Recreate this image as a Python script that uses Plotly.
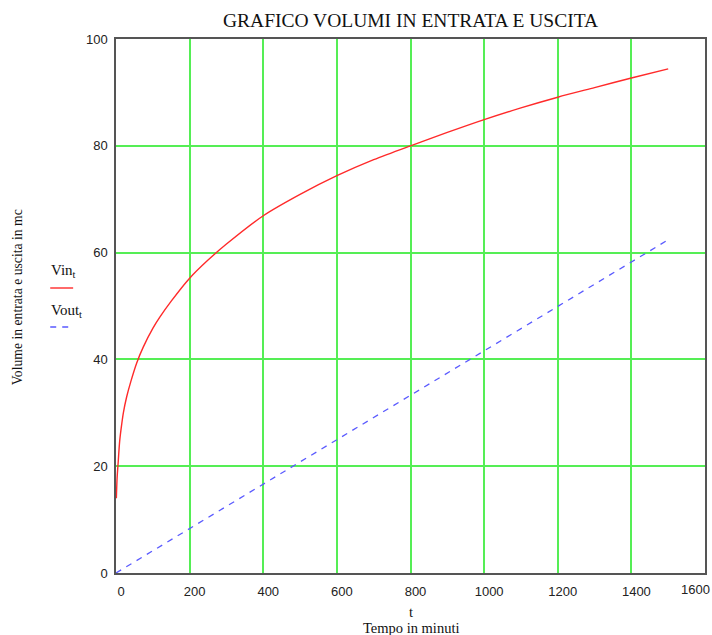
import plotly.graph_objects as go

# Data
t_in = [1, 3, 6, 10, 15, 20, 29, 40, 56, 74, 100, 119, 150, 200, 250, 300, 400, 500, 600,
        700, 800, 900, 1000, 1100, 1200, 1300, 1400, 1500]
vin = [14.0, 17.8, 20.8, 24.7, 27.6, 30.0, 33.0, 35.8, 39.3, 42.3, 45.8, 47.9, 50.9, 55.2,
       58.6, 61.6, 66.9, 70.9, 74.4, 77.4, 80.0, 82.5, 84.9, 87.1, 89.1, 90.9, 92.7, 94.4]
t_out = [0, 1500]
vout = [0.0, 62.4]

x_ticks = [0, 200, 400, 600, 800, 1000, 1200, 1400, 1600]
y_ticks = [0, 20, 40, 60, 80, 100]

W, H = 712, 635
L, R, T, B = 116, 5, 39, 62
pw, ph = W - L - R, H - T - B


def px(x):
    return (x - L) / pw


def py(y):
    return 1 - (y - T) / ph


RED = "#ff2a2a"
BLUE = "#5a5aff"
GRID = "#55ee55"
SERIF = "Liberation Serif"
SANS = "Liberation Sans"
INK = "#111111"
TICKC = "#222222"

fig = go.Figure()
fig.add_trace(go.Scatter(x=t_in, y=vin, mode="lines", name="Vin",
                         line=dict(color=RED, width=1.4, shape="spline", smoothing=0.8),
                         showlegend=False, hoverinfo="skip"))
fig.add_trace(go.Scatter(x=t_out, y=vout, mode="lines", name="Vout",
                         line=dict(color=BLUE, width=1.3, dash="6px,6px"),
                         showlegend=False, hoverinfo="skip"))

axis_common = dict(showline=True, linecolor="#555555", linewidth=1.5, mirror=True,
                   showgrid=True, gridcolor=GRID, gridwidth=1.5, zeroline=False,
                   ticks="", tickfont=dict(family=SANS, size=13, color=TICKC))

# last x label (1600) sits at the plot edge; drawn as an annotation below
x_text = [str(v) for v in x_ticks[:-1]] + [""]
fig.update_xaxes(range=[0, 1600], tickvals=x_ticks, ticktext=x_text,
                 ticklabelshift=5, ticklabelstandoff=6, **axis_common)
fig.update_yaxes(range=[0, 100], tickvals=y_ticks, ticktext=[str(v) for v in y_ticks],
                 ticklabelstandoff=4, **axis_common)

annotations = [
    dict(text="GRAFICO VOLUMI IN ENTRATA E USCITA", x=px(412), y=py(20), xref="paper", yref="paper",
         showarrow=False, font=dict(family=SERIF, size=19.5, color=INK),
         xanchor="center", yanchor="middle"),
    dict(text=str(x_ticks[-1]), x=px(697), y=py(589), xref="paper", yref="paper", showarrow=False,
         font=dict(family=SANS, size=13, color=TICKC), xanchor="center", yanchor="middle"),
    dict(text="t", x=px(412), y=py(612), xref="paper", yref="paper", showarrow=False,
         font=dict(family=SERIF, size=14.5, color=INK), xanchor="center", yanchor="middle"),
    dict(text="Tempo in minuti", x=px(412), y=py(627.5), xref="paper", yref="paper", showarrow=False,
         font=dict(family=SERIF, size=14.5, color=INK), xanchor="center", yanchor="middle"),
    dict(text="Volume in entrata e uscita in mc", x=px(17), y=py(297), xref="paper", yref="paper",
         showarrow=False, textangle=-90, font=dict(family=SERIF, size=13.7, color=INK),
         xanchor="center", yanchor="middle"),
    dict(text="Vin<sub>t</sub>", x=px(49), y=py(271), xref="paper", yref="paper",
         showarrow=False, font=dict(family=SERIF, size=15, color=INK),
         xanchor="left", yanchor="middle"),
    dict(text="Vout<sub>t</sub>", x=px(49), y=py(311), xref="paper", yref="paper",
         showarrow=False, font=dict(family=SERIF, size=15, color=INK),
         xanchor="left", yanchor="middle"),
]

shapes = [
    dict(type="line", xref="paper", yref="paper", x0=px(50), x1=px(73), y0=py(288), y1=py(288),
         line=dict(color=RED, width=1.4)),
    dict(type="line", xref="paper", yref="paper", x0=px(50), x1=px(69), y0=py(327), y1=py(327),
         line=dict(color=BLUE, width=1.3, dash="6px,6px")),
]

fig.update_layout(width=W, height=H, margin=dict(l=L, r=R, t=T, b=B),
                  paper_bgcolor="white", plot_bgcolor="white",
                  annotations=annotations, shapes=shapes, showlegend=False)

fig.write_html("out.html", config={"displayModeBar": False},
               post_script="document.body.style.margin='0';document.body.style.overflow='hidden';")
